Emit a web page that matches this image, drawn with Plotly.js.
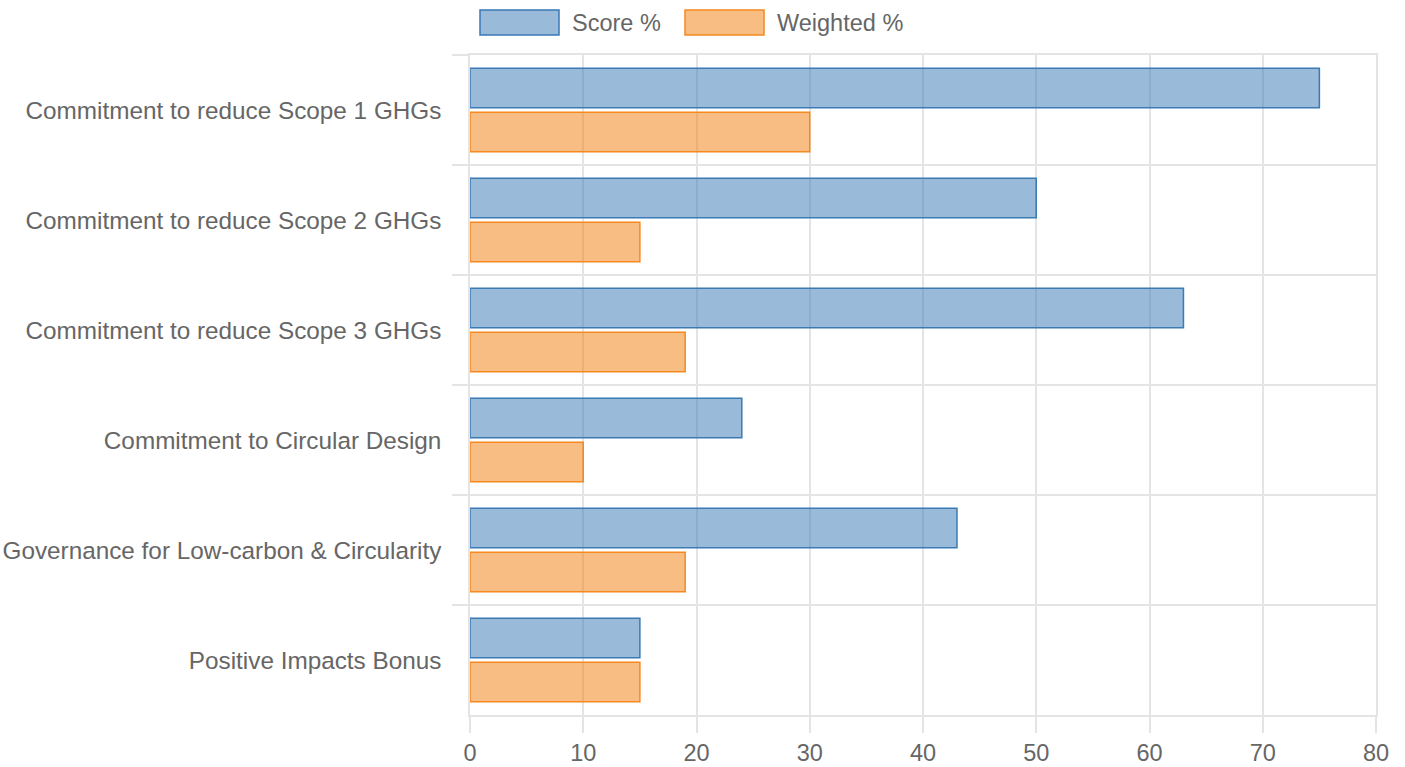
<!DOCTYPE html>
<html>
<head>
<meta charset="utf-8">
<script src="https://cdn.plot.ly/plotly-3.0.1.min.js"></script>
<style>
html,body{margin:0;padding:0;background:#fff;}
#chart{width:1405px;height:767px;}
</style>
</head>
<body>
<div id="chart"></div>
<script>
const categories = [
  "Commitment to reduce Scope 1 GHGs",
  "Commitment to reduce Scope 2 GHGs",
  "Commitment to reduce Scope 3 GHGs",
  "Commitment to Circular Design",
  "Governance for Low-carbon & Circularity",
  "Positive Impacts Bonus"
];
const seriesNames = ["Score %", "Weighted %"];
const scoreValues = [75, 50, 63, 24, 43, 15];
const weightedValues = [30, 15, 19, 10, 19, 15];
const xTickValues = [0, 10, 20, 30, 40, 50, 60, 70, 80];

const fills = ["rgba(52,118,180,0.5)", "rgba(242,130,20,0.53)"];
const borders = ["#3a7ab5", "#f5891f"];
const FONT = '"Liberation Sans", Arial, Helvetica, sans-serif';
const grid = "#e4e4e4";
const FS = 23.5;
const FSY = 24.3;

const traces = [scoreValues, weightedValues].map((vals, i) => ({
  type: "bar",
  orientation: "h",
  name: seriesNames[i],
  y: categories,
  x: vals,
  marker: {color: fills[i], line: {color: borders[i], width: 1.5}},
  hoverinfo: "x+y",
  showlegend: false
}));

const W = 1405, H = 767;
const margin = {l: 470, r: 29, t: 55, b: 52};
const pw = W - margin.l - margin.r;
const ph = H - margin.t - margin.b;
const px2paperX = px => (px - margin.l) / pw;
const px2paperY = py => 1 - (py - margin.t) / ph;
const legendX = [480, 685];

const legendShapes = seriesNames.map((n, i) => ({
  type: "rect", xref: "paper", yref: "paper",
  x0: px2paperX(legendX[i]), x1: px2paperX(legendX[i] + 79),
  y0: px2paperY(35), y1: px2paperY(10),
  fillcolor: fills[i], line: {color: borders[i], width: 1.5}
}));
const legendAnn = seriesNames.map((n, i) => ({
  xref: "paper", yref: "paper",
  x: px2paperX(legendX[i] + 90), y: px2paperY(23),
  xanchor: "left", yanchor: "middle",
  text: n, showarrow: false,
  font: {family: FONT, size: FS, color: "#666"}
}));

const layout = {
  width: W, height: H,
  margin: margin,
  paper_bgcolor: "#fff",
  plot_bgcolor: "#fff",
  barmode: "group",
  bargap: 0.2,
  bargroupgap: 0.1,
  showlegend: false,
  font: {family: FONT, size: FS, color: "#666"},
  xaxis: {
    range: [0, 80],
    tickvals: xTickValues,
    ticktext: xTickValues.map(String),
    showgrid: true, gridcolor: grid, gridwidth: 1.5,
    zeroline: false,
    showline: true, linecolor: grid, linewidth: 1.5, mirror: true,
    ticks: "outside", ticklen: 16, tickwidth: 1.5, tickcolor: grid,
    ticklabelstandoff: 0,
    tickfont: {family: FONT, size: FS, color: "#666"}
  },
  yaxis: {
    type: "category",
    autorange: "reversed",
    tickson: "boundaries",
    showgrid: true, gridcolor: grid, gridwidth: 1.5,
    zeroline: false,
    showline: true, linecolor: grid, linewidth: 1.5, mirror: true,
    ticks: "outside", ticklen: 16, tickwidth: 1.5, tickcolor: grid,
    ticklabelstandoff: 22,
    tickfont: {family: FONT, size: FSY, color: "#666"}
  },
  shapes: legendShapes,
  annotations: legendAnn
};

Plotly.newPlot("chart", traces, layout, {displayModeBar: false, responsive: false});
</script>
</body>
</html>
